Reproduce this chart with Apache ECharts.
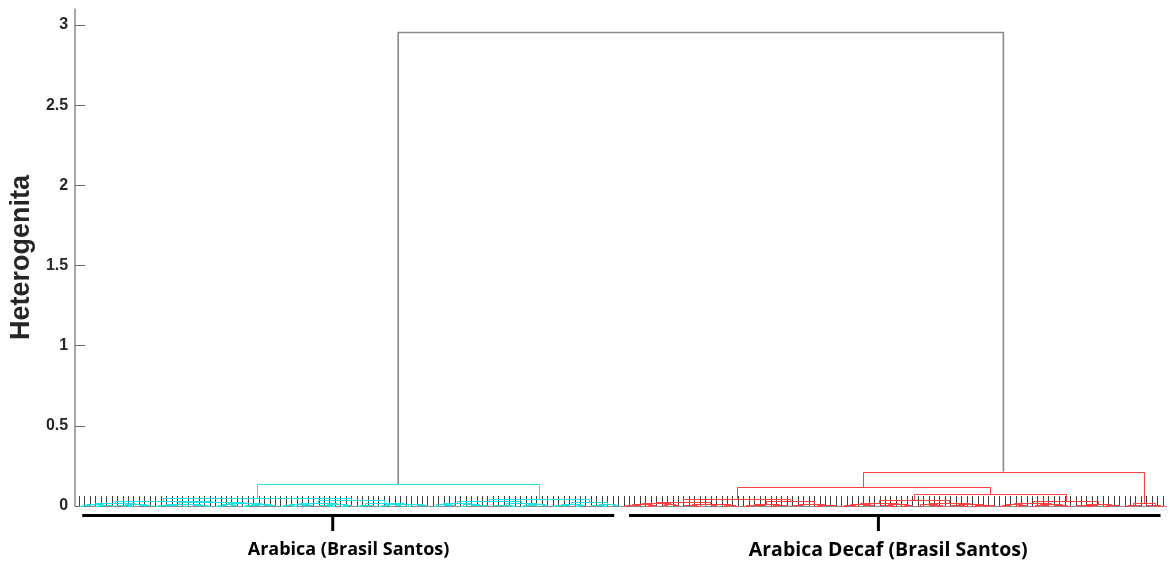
<!DOCTYPE html>
<html>
<head>
<meta charset="utf-8">
<title>Dendrogram</title>
<script src="https://cdn.jsdelivr.net/npm/echarts@6/dist/echarts.min.js"></script>
<style>
  html, body { margin: 0; padding: 0; background: #ffffff; }
  #chart { width: 1173px; height: 565px; }
</style>
</head>
<body>
<div id="chart"></div>
<script>
// Linkage tree in a compact nested notation: "x" is a leaf, "(a,b)h" joins
// two subtrees at height h (in thousandths of the heterogeneity scale).

// Arabica (Brasil Santos)
const arabicaA1  = "((((x,x)3,x)6,((x,x)2,(x,x)5)8)11,(((x,x)4,(x,x)3)7,((x,x)6,x)9)13)17";
const arabicaA2a = "(((x,x)2,((x,x)4,x)6)9,((x,x)3,((x,x)5,(x,x)2)7)11)15";
const arabicaA2b = "((((x,x)3,x)5,(x,x)6)10,(((x,x)2,(x,x)4)7,((x,x)5,x)8)12)19";
const arabicaB1  = "((((x,x)3,(x,x)2)6,((x,x)4,x)7)10,(((x,x)5,(x,x)2)8,((x,x)3,x)6)11)16";
const arabicaB2  = "(((x,x)2,(x,x)4)9,((((x,x)3,x)5,(x,x)6)10,((x,x)2,((x,x)4,x)7)12)15)21";
const arabicaC1  = "(((x,x)3,((x,x)5,x)7)10,((x,x)2,((x,x)4,(x,x)6)8)12)16";
const arabicaC2  = "((((x,x)4,x)6,(x,x)3)9,(((x,x)2,(x,x)5)7,(x,x)8)11)17";
const arabicaC3  = "((((x,x)2,(x,x)5)7,((x,x)3,x)6)10,(((x,x)4,(x,x)2)8,(x,x)9)13)22";

// Arabica Decaf (Brasil Santos)
const decafD1a = "((((x,x)3,(x,x)6)9,((x,x)2,x)5)14,((x,x)4,(x,x)7)10)19";
const decafD1b = "((((x,x)4,(x,x)3)8,x)11,((x,x)5,((x,x)2,(x,x)3)7)10)15";
const decafE1  = "(((x,x)2,((x,x)4,x)6)9,((x,x)3,(x,x)5)8)12";
const decafE2  = "((((x,x)5,x)7,x)10,((x,x)2,((x,x)4,x)6)9)14";
const decafF1  = "((((x,x)3,(x,x)2)5,((x,x)6,x)8)11,(((x,x)4,(x,x)2)7,((x,x)3,x)9)12)17";
const decafF2  = "(((x,x)2,((x,x)5,(x,x)3)8)11,(((x,x)4,(x,x)3)6,((x,x)2,((x,x)3,x)5)9)13)19";
const decafG1  = "((((x,x)3,x)5,((x,x)2,x)7)10,(((x,x)2,(x,x)4)7,((x,x)5,(x,x)3)8)12)18";
const decafG2  = "(((x,x)4,((x,x)2,x)6)9,((x,x)3,(x,x)5)8)11";
const decafR2  = "(((x,x)3,(x,x)6)9,((x,x)4,(x,x)2)7)20";

// Upper levels of the tree
const arabicaTree = `(((${arabicaA1},(${arabicaA2a},${arabicaA2b})24)30,(${arabicaB1},${arabicaB2})36)50,((${arabicaC1},${arabicaC2})30,${arabicaC3})44)137`;
const decafTree = `((((${decafD1a},${decafD1b})28,(${decafE1},${decafE2})30)42,((${decafF1},${decafF2})35,(${decafG1},${decafG2})30)75)118,${decafR2})215`;
const rootHeight = 2953;

const yTicks = [0, 0.5, 1, 1.5, 2, 2.5, 3];
const groupNames = ['Arabica (Brasil Santos)', 'Arabica Decaf (Brasil Santos)'];
const groupSpans = [[1.6, 99.3], [102.0, 199.6]];   // bracket ends, in leaf units
const groupMarks = [47.6, 147.8];                   // bracket stems, in leaf units
const groupLabelAt = [50.5, 149.6];                 // label centres, in leaf units
const groupLabelSize = [18, 19.5];

// ---- parse the notation into a tree ----
function parseTree(s) {
  let i = 0;
  function node() {
    if (i >= s.length) throw new Error('unbalanced tree string');
    if (s[i] === 'x') { i++; return { leaf: true }; }
    i++;                       // '('
    const a = node();
    i++;                       // ','
    const b = node();
    i++;                       // ')'
    let num = '';
    while (i < s.length && /[0-9.]/.test(s[i])) num += s[i++];
    return { leaf: false, h: parseFloat(num) / 1000, a, b };
  }
  return node();
}

const root = parseTree(`(${arabicaTree},${decafTree})${rootHeight}`);

// ---- leaf order and link positions (node x = mean of its two children) ----
// link row: [left x, right x, left child height, right child height, height, colour key]
const CYAN = 0, RED = 1, GRAY = 2;
const leaves = [];
const links = [];
let leafCount = 0;
function layout(n, colourKey) {
  if (n.leaf) {
    n.x = ++leafCount;
    n.y = 0;
    leaves.push([n.x]);
    return;
  }
  layout(n.a, colourKey);
  layout(n.b, colourKey);
  n.x = (n.a.x + n.b.x) / 2;
  n.y = n.h;
  links.push([n.a.x, n.b.x, n.a.y, n.b.y, n.h, colourKey]);
}
layout(root.a, CYAN);
layout(root.b, RED);
root.x = (root.a.x + root.b.x) / 2;
links.push([root.a.x, root.b.x, root.a.y, root.b.y, root.h, GRAY]);

const linkStyles = [
  { stroke: '#20e4e4', lineWidth: 1 },    // Arabica
  { stroke: '#ff4040', lineWidth: 1 },    // Arabica Decaf
  { stroke: '#8a8a8a', lineWidth: 1.6 }   // link above the cut
];

// keep 1px strokes on pixel centres so thin links stay crisp
function crisp(p) { return [Math.round(p[0]) + 0.5, Math.round(p[1]) + 0.5]; }

function renderLink(params, api) {
  const key = api.value(5);
  const s = linkStyles[key];
  let pts = [
    api.coord([api.value(0), api.value(2)]),
    api.coord([api.value(0), api.value(4)]),
    api.coord([api.value(1), api.value(4)]),
    api.coord([api.value(1), api.value(3)])
  ];
  if (key !== GRAY) pts = pts.map(crisp);
  return {
    type: 'polyline',
    shape: { points: pts },
    style: { stroke: s.stroke, lineWidth: s.lineWidth, fill: null },
    z2: key === GRAY ? 10 : 1
  };
}

function renderLeafTick(params, api) {
  const p = crisp(api.coord([api.value(0), 0]));
  return {
    type: 'line',
    shape: { x1: p[0], y1: p[1] - 0.5, x2: p[0], y2: p[1] - 10.5 },
    style: { stroke: '#404040', lineWidth: 1 }
  };
}

const chart = echarts.init(document.getElementById('chart'), null, { renderer: 'canvas' });

const option = {
  animation: false,
  backgroundColor: '#ffffff',
  grid: { left: 73.5, right: 6.5, top: 9, bottom: 59, containLabel: false },
  xAxis: {
    type: 'value',
    min: 0.3,
    max: 200.7,
    axisLine: { show: true, lineStyle: { color: '#8a8a8a', width: 1 } },
    axisTick: { show: false },
    axisLabel: { show: false },
    splitLine: { show: false }
  },
  yAxis: {
    type: 'value',
    min: 0,
    max: 3.1,
    name: 'Heterogenita',
    nameLocation: 'middle',
    nameGap: 38,
    nameTextStyle: { fontFamily: 'Liberation Sans, Arial, sans-serif', fontWeight: 'bold', fontSize: 27, color: '#262626' },
    axisLine: { show: true, lineStyle: { color: '#8a8a8a', width: 1.5 } },
    axisTick: { show: true, inside: true, length: 10, customValues: yTicks, lineStyle: { color: '#6a6a6a', width: 1 } },
    axisLabel: {
      customValues: yTicks,
      margin: 7,
      fontFamily: 'Liberation Sans, Arial, sans-serif',
      fontWeight: 'bold',
      fontSize: 16,
      color: '#262626'
    },
    splitLine: { show: false }
  },
  series: [
    {
      name: 'leaves', type: 'custom', renderItem: renderLeafTick,
      data: leaves, encode: { x: 0 }, silent: true, z: 1
    },
    {
      name: 'links', type: 'custom', renderItem: renderLink,
      data: links, encode: { x: [0, 1], y: [2, 3, 4] }, silent: true, z: 2
    }
  ]
};

chart.setOption(option);

// Group brackets beneath the leaves
const toPx = function (v) { return chart.convertToPixel({ gridIndex: 0 }, [v, 0]); };
const base = toPx(1)[1];
const graphics = [];
groupNames.forEach(function (name, k) {
  const x1 = toPx(groupSpans[k][0])[0];
  const x2 = toPx(groupSpans[k][1])[0];
  const xm = toPx(groupMarks[k])[0];
  const xl = toPx(groupLabelAt[k])[0];
  graphics.push({
    type: 'line', silent: true,
    shape: { x1: x1, y1: base + 9.5, x2: x2, y2: base + 9.5 },
    style: { stroke: '#000000', lineWidth: 3 }
  });
  graphics.push({
    type: 'line', silent: true,
    shape: { x1: xm, y1: base + 9.5, x2: xm, y2: base + 25 },
    style: { stroke: '#000000', lineWidth: 3 }
  });
  graphics.push({
    type: 'text', silent: true,
    x: xl, y: base + 44,
    style: {
      text: name,
      align: 'center', verticalAlign: 'middle',
      fontFamily: 'Open Sans, sans-serif',
      fontWeight: 'bold', fontSize: groupLabelSize[k], fill: '#000000'
    }
  });
});
chart.setOption({ graphic: graphics });
</script>
</body>
</html>
